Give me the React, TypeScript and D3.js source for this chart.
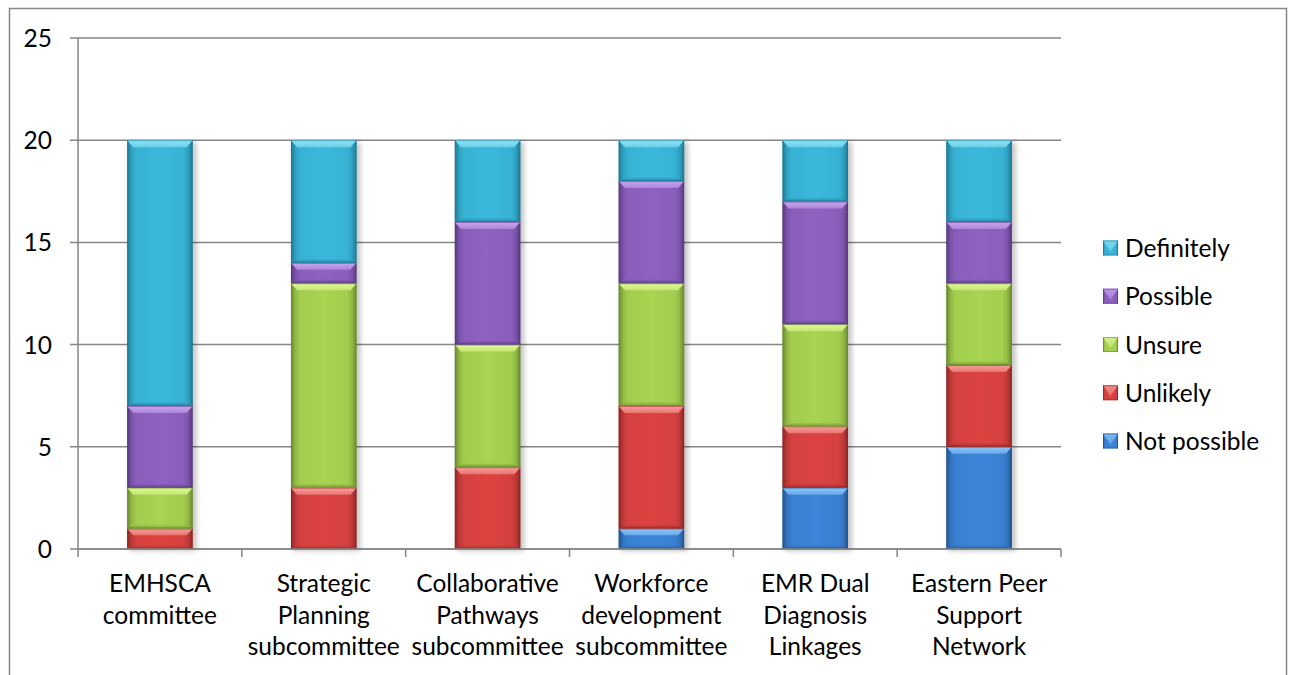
import { useRef, useEffect } from "react";
import * as d3 from "d3";

const categories = [
  ["EMHSCA", "committee"],
  ["Strategic", "Planning", "subcommittee"],
  ["Collaborative", "Pathways", "subcommittee"],
  ["Workforce", "development", "subcommittee"],
  ["EMR Dual", "Diagnosis", "Linkages"],
  ["Eastern Peer", "Support", "Network"],
];
const seriesNames = ["Not possible", "Unlikely", "Unsure", "Possible", "Definitely"];
const notPossible = [0, 0, 0, 1, 3, 5];
const unlikely = [1, 3, 4, 6, 3, 4];
const unsure = [2, 10, 6, 6, 5, 4];
const possible = [4, 1, 6, 5, 6, 3];
const definitely = [13, 6, 4, 2, 3, 4];
const yTicks = [0, 5, 10, 15, 20, 25];

// base, light (top bevel), dark (edges)
const palette = {
  "Not possible": ["#3a80d2", "#8fc8fa", "#21548f"],
  Unlikely: ["#d4413f", "#f7a09b", "#8f2624"],
  Unsure: ["#a2cd4e", "#e0f995", "#6a8a2b"],
  Possible: ["#8a5ebc", "#c8a6ef", "#573a80"],
  Definitely: ["#38b2d4", "#90e6f8", "#1c7895"],
};

const FONT = "Lato, 'Open Sans', sans-serif";
const FS = 24.5;

export default function App() {
  const ref = useRef(null);

  useEffect(() => {
    document.body.style.margin = "0";
    const svg = d3.select(ref.current);
    svg.selectAll("*").remove();

    const W = 1289,
      H = 675;
    const left = 78,
      right = 1061,
      top = 38,
      bottom = 549;

    svg.attr("width", W).attr("height", H).style("display", "block");

    const defs = svg.append("defs");
    const blur = defs.append("filter").attr("id", "shadow").attr("x", "-20%").attr("y", "-20%").attr("width", "140%").attr("height", "140%");
    blur.append("feGaussianBlur").attr("stdDeviation", 2.5);

    seriesNames.forEach((name, i) => {
      const [base, light, dark] = palette[name];
      const gh = defs.append("linearGradient").attr("id", `gh${i}`).attr("x1", 0).attr("x2", 1).attr("y1", 0).attr("y2", 0);
      gh.append("stop").attr("offset", "0%").attr("stop-color", dark);
      gh.append("stop").attr("offset", "7%").attr("stop-color", d3.interpolateRgb(dark, base)(0.7));
      gh.append("stop").attr("offset", "14%").attr("stop-color", base);
      gh.append("stop").attr("offset", "50%").attr("stop-color", d3.color(base).brighter(0.1).formatHex());
      gh.append("stop").attr("offset", "86%").attr("stop-color", base);
      gh.append("stop").attr("offset", "93%").attr("stop-color", d3.interpolateRgb(dark, base)(0.7));
      gh.append("stop").attr("offset", "100%").attr("stop-color", dark);
      const gt = defs.append("linearGradient").attr("id", `gt${i}`).attr("x1", 0).attr("x2", 0).attr("y1", 0).attr("y2", 1);
      gt.append("stop").attr("offset", "0%").attr("stop-color", light);
      gt.append("stop").attr("offset", "100%").attr("stop-color", d3.interpolateRgb(light, base)(0.45));
      const gb = defs.append("linearGradient").attr("id", `gb${i}`).attr("x1", 0).attr("x2", 0).attr("y1", 0).attr("y2", 1);
      gb.append("stop").attr("offset", "0%").attr("stop-color", base);
      gb.append("stop").attr("offset", "100%").attr("stop-color", dark);
    });

    // chart border
    svg
      .append("rect")
      .attr("x", 9.5)
      .attr("y", 8.5)
      .attr("width", 1277)
      .attr("height", 720)
      .attr("fill", "#fff")
      .attr("stroke", "#868686")
      .attr("stroke-width", 1.5);

    const x = d3.scaleBand().domain(d3.range(categories.length)).range([left, right]).paddingInner(0.6).paddingOuter(0.3);
    const y = d3.scaleLinear().domain([0, 25]).range([bottom, top]);

    // gridlines + y labels
    const grid = svg.append("g");
    grid
      .selectAll("line")
      .data(yTicks)
      .join("line")
      .attr("x1", left - 8)
      .attr("x2", right)
      .attr("y1", (d) => y(d))
      .attr("y2", (d) => y(d))
      .attr("stroke", "#868686")
      .attr("stroke-width", 1.5);
    grid
      .selectAll("text")
      .data(yTicks)
      .join("text")
      .attr("x", 52)
      .attr("y", (d) => y(d) + 9)
      .attr("text-anchor", "end")
      .attr("font-family", FONT)
      .attr("font-size", FS)
      .attr("fill", "#000")
      .text((d) => d);

    // y axis line
    svg.append("line").attr("x1", left).attr("x2", left).attr("y1", top).attr("y2", bottom).attr("stroke", "#868686").attr("stroke-width", 1.5);

    const rows = categories.map((c, i) => ({
      i,
      "Not possible": notPossible[i],
      Unlikely: unlikely[i],
      Unsure: unsure[i],
      Possible: possible[i],
      Definitely: definitely[i],
    }));
    const stacked = d3.stack().keys(seriesNames)(rows);
    const bw = x.bandwidth();

    // shadows
    svg
      .append("g")
      .selectAll("rect")
      .data(rows)
      .join("rect")
      .attr("x", (d) => x(d.i) + 2)
      .attr("y", (d) => y(d3.sum(seriesNames, (k) => d[k])) + 2)
      .attr("width", bw + 2)
      .attr("height", (d) => bottom - y(d3.sum(seriesNames, (k) => d[k])))
      .attr("fill", "#000")
      .attr("opacity", 0.22)
      .attr("filter", "url(#shadow)");

    // bars
    stacked.forEach((layer, si) => {
      const [, , dark] = palette[seriesNames[si]];
      const g = svg.append("g");
      layer.forEach((seg, ci) => {
        if (seg[1] - seg[0] <= 0) return;
        const x0 = x(ci),
          x1 = x0 + bw,
          y0 = y(seg[1]),
          y1 = y(seg[0]);
        const h = y1 - y0;
        const b = Math.min(7, h / 3);
        const s = Math.min(6, h / 3);
        const sg = g.append("g");
        sg.append("rect").attr("x", x0).attr("y", y0).attr("width", bw).attr("height", h).attr("fill", `url(#gh${si})`);
        sg.append("polygon")
          .attr("points", [[x0, y0], [x1, y0], [x1 - s, y0 + b], [x0 + s, y0 + b]].map((p) => p.join(",")).join(" "))
          .attr("fill", `url(#gt${si})`);
        sg.append("polygon")
          .attr("points", [[x0, y1], [x1, y1], [x1 - s, y1 - 4], [x0 + s, y1 - 4]].map((p) => p.join(",")).join(" "))
          .attr("fill", `url(#gb${si})`)
          .attr("opacity", 0.7);
        sg.append("rect")
          .attr("x", x0 + 0.5)
          .attr("y", y0 + 0.5)
          .attr("width", bw - 1)
          .attr("height", h - 1)
          .attr("fill", "none")
          .attr("stroke", dark)
          .attr("stroke-opacity", 0.55)
          .attr("stroke-width", 1);
      });
    });

    // x axis line + ticks
    svg.append("line").attr("x1", left).attr("x2", right).attr("y1", bottom).attr("y2", bottom).attr("stroke", "#868686").attr("stroke-width", 1.5);
    svg
      .append("g")
      .selectAll("line")
      .data(d3.range(categories.length + 1))
      .join("line")
      .attr("x1", (d) => left + d * x.step())
      .attr("x2", (d) => left + d * x.step())
      .attr("y1", bottom)
      .attr("y2", bottom + 8)
      .attr("stroke", "#868686")
      .attr("stroke-width", 1.5);

    // category labels
    const labels = svg
      .append("g")
      .selectAll("text")
      .data(categories)
      .join("text")
      .attr("text-anchor", "middle")
      .attr("font-family", FONT)
      .attr("font-size", FS)
      .attr("fill", "#000");
    labels
      .selectAll("tspan")
      .data((d, i) => d.map((line) => ({ line, i })))
      .join("tspan")
      .attr("x", (d) => x(d.i) + bw / 2)
      .attr("y", (d, j) => 592 + j * 31.5)
      .text((d) => d.line);

    // legend
    const legendOrder = seriesNames.slice().reverse();
    const ly = d3.scalePoint().domain(legendOrder).range([248, 441]);
    const leg = svg
      .append("g")
      .selectAll("g")
      .data(legendOrder)
      .join("g")
      .attr("transform", (d) => `translate(1103,${ly(d)})`);
    leg.each(function (d) {
      const si = seriesNames.indexOf(d);
      const gg = d3.select(this);
      const sz = 15;
      gg.append("rect").attr("x", 0).attr("y", -sz / 2).attr("width", sz).attr("height", sz).attr("fill", `url(#gh${si})`);
      gg.append("polygon")
        .attr("points", `0,${-sz / 2} ${sz},${-sz / 2} ${sz / 2},${sz / 2 - 4}`)
        .attr("fill", `url(#gt${si})`)
        .attr("opacity", 0.8);
      gg.append("rect")
        .attr("x", 0.5)
        .attr("y", -sz / 2 + 0.5)
        .attr("width", sz - 1)
        .attr("height", sz - 1)
        .attr("fill", "none")
        .attr("stroke", palette[d][2])
        .attr("stroke-opacity", 0.6);
    });
    leg
      .append("text")
      .attr("x", 22)
      .attr("y", 9)
      .attr("font-family", FONT)
      .attr("font-size", FS)
      .attr("fill", "#000")
      .text((d) => d);
  }, []);

  return <svg ref={ref} />;
}
